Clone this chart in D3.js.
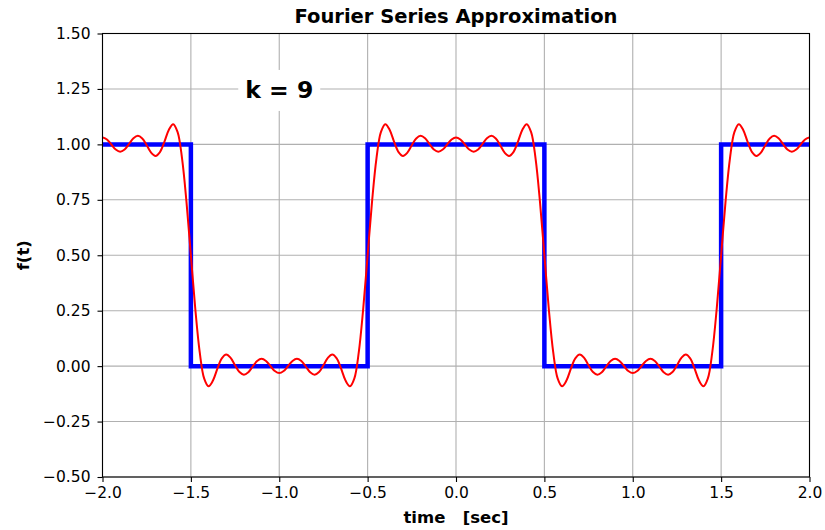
<!DOCTYPE html>
<html>
<head>
<meta charset="utf-8">
<script src="https://cdn.jsdelivr.net/npm/d3@7"></script>
<style>
  body { margin: 0; background: #fff; }
  text { font-family: "DejaVu Sans", sans-serif; fill: #000; }
</style>
</head>
<body>
<div id="chart"></div>
<script>
// square wave corners (step after)
const squareT = [-2, -1.5, -0.5, 0.5, 1.5, 2];
const squareF = [1, 0, 1, 0, 1, 1];

// fourier partial sum, read every 0.025 sec from -2 to 2
const fourierF = [
  1.0315, 1.0222, 0.9995, 0.9766, 0.9669, 0.9769, 1.0017, 1.0275, 1.0386, 1.0266,
  0.9959, 0.9628, 0.9479, 0.9651, 1.0114, 1.0650, 1.0912, 1.0550, 0.9369, 0.7417,
  0.5000, 0.2583, 0.0631, -0.0550, -0.0912, -0.0650, -0.0114, 0.0349, 0.0521, 0.0372,
  0.0041, -0.0266, -0.0386, -0.0275, -0.0017, 0.0231, 0.0331, 0.0234, 0.0005, -0.0222,
  -0.0315,
  -0.0222, 0.0005, 0.0234, 0.0331, 0.0231, -0.0017, -0.0275, -0.0386, -0.0266, 0.0041,
  0.0372, 0.0521, 0.0349, -0.0114, -0.0650, -0.0912, -0.0550, 0.0631, 0.2583, 0.5000,
  0.7417, 0.9369, 1.0550, 1.0912, 1.0650, 1.0114, 0.9651, 0.9479, 0.9628, 0.9959,
  1.0266, 1.0386, 1.0275, 1.0017, 0.9769, 0.9669, 0.9766, 0.9995, 1.0222, 1.0315,
  1.0222, 0.9995, 0.9766, 0.9669, 0.9769, 1.0017, 1.0275, 1.0386, 1.0266, 0.9959,
  0.9628, 0.9479, 0.9651, 1.0114, 1.0650, 1.0912, 1.0550, 0.9369, 0.7417, 0.5000,
  0.2583, 0.0631, -0.0550, -0.0912, -0.0650, -0.0114, 0.0349, 0.0521, 0.0372, 0.0041,
  -0.0266, -0.0386, -0.0275, -0.0017, 0.0231, 0.0331, 0.0234, 0.0005, -0.0222, -0.0315,
  -0.0222, 0.0005, 0.0234, 0.0331, 0.0231, -0.0017, -0.0275, -0.0386, -0.0266, 0.0041,
  0.0372, 0.0521, 0.0349, -0.0114, -0.0650, -0.0912, -0.0550, 0.0631, 0.2583, 0.5000,
  0.7417, 0.9369, 1.0550, 1.0912, 1.0650, 1.0114, 0.9651, 0.9479, 0.9628, 0.9959,
  1.0266, 1.0386, 1.0275, 1.0017, 0.9769, 0.9669, 0.9766, 0.9995, 1.0222, 1.0315
];
const fourierT = fourierF.map((d, i) => -2 + i * 0.025);

const xTicks = [-2.0, -1.5, -1.0, -0.5, 0.0, 0.5, 1.0, 1.5, 2.0];
const yTicks = [-0.5, -0.25, 0, 0.25, 0.5, 0.75, 1.0, 1.25, 1.5];
const kLabel = "k = 9";

const width = 825;
const height = 530;
const margin = {top: 33.5, right: 15.5, bottom: 53, left: 102.5};
const chartWidth = width - margin.left - margin.right;
const chartHeight = height - margin.top - margin.bottom;

const svg = d3.select("#chart").append("svg").attr("width", width).attr("height", height);
const g = svg.append("g").attr("transform", `translate(${margin.left},${margin.top})`);

const x_scale = d3.scaleLinear().domain([-2, 2]).range([0, chartWidth]);
const y_scale = d3.scaleLinear().domain([-0.5, 1.5]).range([chartHeight, 0]);

const fmtY = d => d3.format(".2f")(d).replace("-", "\u2212");
const fmtX = d => d3.format(".1f")(d).replace("-", "\u2212");

// grid
g.append("g").selectAll("line").data(xTicks).enter().append("line")
  .attr("x1", d => x_scale(d)).attr("x2", d => x_scale(d))
  .attr("y1", 0).attr("y2", chartHeight)
  .attr("stroke", "#b0b0b0").attr("stroke-width", 1.1);
g.append("g").selectAll("line").data(yTicks).enter().append("line")
  .attr("y1", d => y_scale(d)).attr("y2", d => y_scale(d))
  .attr("x1", 0).attr("x2", chartWidth)
  .attr("stroke", "#b0b0b0").attr("stroke-width", 1.1);

// k label with white box
const kx = x_scale(-1.0), ky = y_scale(1.25);
g.append("rect")
  .attr("x", kx - 41).attr("y", ky - 19)
  .attr("width", 82).attr("height", 41)
  .attr("fill", "#fff");
g.append("text")
  .attr("x", kx).attr("y", ky + 9)
  .attr("text-anchor", "middle")
  .style("font-size", "23.5px").style("font-weight", "bold")
  .text(kLabel);

// square wave
const squareData = squareT.map((t, i) => ({t, f: squareF[i]}));
const square_line = d3.line().x(d => x_scale(d.t)).y(d => y_scale(d.f)).curve(d3.curveStepAfter);
g.append("path").datum(squareData)
  .attr("fill", "none").attr("stroke", "#0000ff").attr("stroke-width", 4.5)
  .attr("d", square_line);

// fourier approximation
const fourierData = fourierT.map((t, i) => ({t, f: fourierF[i]}));
const fourier_line = d3.line().x(d => x_scale(d.t)).y(d => y_scale(d.f)).curve(d3.curveCatmullRom);
g.append("path").datum(fourierData)
  .attr("fill", "none").attr("stroke", "#ff0000").attr("stroke-width", 2)
  .attr("d", fourier_line);

// axes
const x_axis = d3.axisBottom(x_scale).tickValues(xTicks).tickFormat(fmtX).tickSizeOuter(0).tickSize(5).tickPadding(5);
const xg = g.append("g").attr("transform", `translate(0,${chartHeight})`).call(x_axis);
const y_axis = d3.axisLeft(y_scale).tickValues(yTicks).tickFormat(fmtY).tickSizeOuter(0).tickSize(5).tickPadding(7);
const yg = g.append("g").call(y_axis);
[xg, yg].forEach(a => {
  a.select(".domain").remove();
  a.selectAll("text").style("font-size", "15.5px").style("font-family", "DejaVu Sans").attr("fill", "#000");
  a.selectAll("line").attr("stroke", "#000").attr("stroke-width", 1.1);
});

// frame
g.append("rect").attr("width", chartWidth).attr("height", chartHeight)
  .attr("fill", "none").attr("stroke", "#000").attr("stroke-width", 1.1);

// titles
svg.append("text")
  .attr("x", margin.left + chartWidth / 2).attr("y", 22.5)
  .attr("text-anchor", "middle")
  .style("font-size", "19.5px").style("font-weight", "bold")
  .text("Fourier Series Approximation");

svg.append("text")
  .attr("x", margin.left + chartWidth / 2).attr("y", 523)
  .attr("text-anchor", "middle")
  .style("font-size", "16.5px").style("font-weight", "bold")
  .style("white-space", "pre").attr("xml:space", "preserve")
  .text("time   [sec]");

svg.append("text")
  .attr("transform", `translate(29,${margin.top + chartHeight / 2}) rotate(-90)`)
  .attr("text-anchor", "middle")
  .style("font-size", "16.5px").style("font-weight", "bold")
  .text("f(t)");
</script>
</body>
</html>
